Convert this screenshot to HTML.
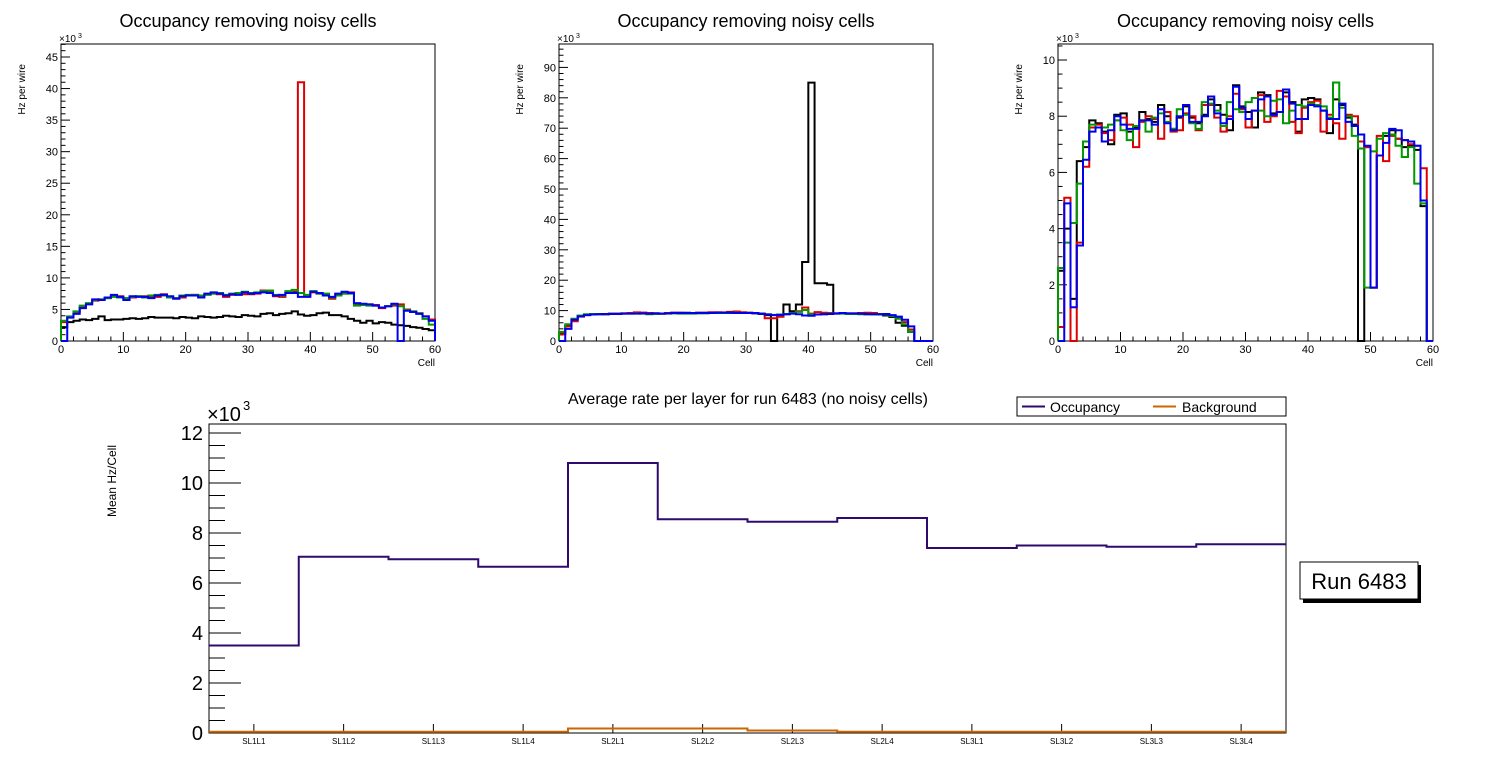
<!DOCTYPE html>
<html><head><meta charset="utf-8"><style>
html,body{margin:0;padding:0;background:#fff;}
svg{display:block;font-family:"Liberation Sans",sans-serif;}
</style></head><body>
<svg id="c" width="1496" height="772" viewBox="0 0 1496 772"></svg>
<script>
// ---- Data ----
const cellEdgesMax = 60;
const p1Black = [2.2,3.0,3.2,3.4,3.3,3.5,3.9,3.3,3.4,3.4, 3.5,3.6,3.5,3.6,3.8,3.7,3.7,3.7,3.6,3.8, 3.7,3.6,3.9,3.8,3.7,3.8,4.0,3.9,3.8,4.1, 4.0,3.9,4.3,4.4,4.1,4.3,4.4,4.7,4.2,4.0, 4.1,4.4,4.5,4.1,4.1,3.9,3.5,3.2,2.9,3.2, 2.8,3.0,2.9,2.6,2.5,2.4,2.2,2.1,1.9,1.7];
const p1Red = [3.0,3.8,4.5,5.4,5.9,6.4,6.6,6.8,7.1,7.1, 6.8,6.9,7.1,7.1,6.9,7.0,7.4,7.0,6.8,6.9, 7.2,7.3,7.1,7.4,7.5,7.4,7.0,7.3,7.6,7.4, 7.4,7.5,8.0,7.9,7.1,7.0,7.6,7.8,41,7.2, 7.7,7.5,7.4,6.7,7.4,7.5,7.7,5.8,5.8,5.8, 5.7,5.2,5.5,5.6,5.8,5.0,4.7,4.4,3.9,3.4];
const p1Green = [3.2,3.9,4.7,5.6,6.0,6.5,6.6,6.8,7.0,6.9, 6.8,7.0,7.1,6.9,7.2,7.3,7.2,6.9,6.8,7.2, 7.3,7.3,7.2,7.3,7.5,7.6,7.3,7.5,7.6,7.8, 7.6,7.7,7.9,8.0,7.3,7.2,7.9,8.1,7.6,7.3, 7.9,7.5,7.5,6.9,7.2,7.5,7.5,5.6,5.7,5.6, 5.6,5.3,5.5,5.8,5.5,4.9,4.7,4.4,3.5,2.6];
const p1Blue = [0,3.7,4.3,5.2,5.8,6.6,6.5,6.9,7.3,7.0, 6.5,7.1,7.0,7.0,6.8,7.2,7.3,7.1,6.7,7.1, 7.2,7.2,6.9,7.5,7.7,7.5,7.2,7.4,7.3,7.7, 7.5,7.6,7.7,7.6,7.2,7.3,7.6,7.6,7.0,7.0, 7.8,7.6,7.2,7.0,7.5,7.8,7.6,6.0,5.9,5.8, 5.6,5.3,5.5,5.9,0,4.8,4.6,4.3,3.9,3.2];

const p2Black = [2.5,5.0,7.2,8.3,8.6,8.8,8.9,8.9,9.0,9.0, 9.1,9.1,9.2,9.3,9.1,9.1,9.0,9.2,9.3,9.3, 9.3,9.2,9.3,9.3,9.4,9.4,9.3,9.6,9.5,9.4, 9.3,9.1,8.9,8.5,0,8.0,12,9.8,12,26, 85,19,19,18.5,9.0,9.1,9.0,9.0,9.1,9.0, 8.9,8.7,8.4,7.9,6.0,5.0,3.0,0,0,0];
const p2Red = [2.2,4.8,6.5,8.0,8.5,8.8,8.8,8.7,8.9,9.0, 9.1,9.2,9.4,9.3,9.2,9.1,9.0,9.2,9.3,9.3, 9.2,9.2,9.3,9.3,9.4,9.4,9.4,9.5,9.7,9.4, 9.3,9.2,9.0,7.5,7.5,8.0,8.8,9.2,9.8,11, 9.0,9.5,9.3,9.2,9.1,9.1,9.1,9.1,9.2,9.3, 9.2,8.9,8.7,8.4,7.5,6.2,3.8,0,0,0];
const p2Green = [3.0,5.5,7.3,8.3,8.8,8.9,8.8,8.8,8.9,8.9, 9.0,9.0,9.1,9.0,8.8,8.9,9.0,9.0,9.1,9.0, 9.0,9.0,9.1,9.1,9.2,9.2,9.2,9.2,9.3,9.2, 9.2,9.2,9.0,8.8,8.6,8.7,8.9,9.2,9.6,10.2, 8.8,8.7,8.8,9.0,9.0,9.0,8.9,8.9,8.8,8.7, 8.7,8.8,8.7,8.2,7.3,5.5,3.0,0,0,0];
const p2Blue = [0,4.0,7.0,8.1,8.5,8.7,8.8,8.9,8.9,8.9, 9.0,9.0,9.0,9.1,9.0,9.1,9.0,9.1,9.2,9.2, 9.2,9.2,9.2,9.2,9.2,9.3,9.3,9.3,9.2,9.2, 9.2,9.2,9.0,8.7,8.5,8.6,8.8,9.0,8.8,8.4, 8.3,8.7,8.8,8.9,9.1,9.2,9.1,9.1,9.0,8.9, 8.8,8.8,8.9,8.5,8.0,7.0,4.8,0,0,0];

const p3Black = [2.5,4.0,1.5,6.4,6.9,7.85,7.75,7.45,7.0,8.05, 8.1,7.45,7.6,8.15,7.9,7.8,8.4,8.0,7.55,7.95, 8.35,7.95,7.75,8.05,8.6,8.4,8.05,7.5,9.1,8.35, 8.15,7.6,8.85,8.75,8.1,8.15,8.85,8.5,7.45,8.6, 8.65,8.6,8.2,7.4,8.6,8.4,7.95,7.7,0,6.9, 1.9,6.6,7.3,7.5,7.2,6.9,6.95,6.8,4.8,0];
const p3Red = [0.5,5.1,0,3.5,6.2,7.6,7.7,7.4,7.15,7.85, 7.95,7.7,6.9,7.8,8.0,7.9,7.2,8.15,7.45,7.5, 8.1,8.0,7.5,8.4,8.4,7.95,7.45,8.0,8.8,8.25, 7.6,8.2,8.75,7.8,8.0,8.9,8.7,7.8,7.4,8.3, 8.5,8.55,7.45,8.05,7.75,7.2,8.05,8.0,7.1,6.9, 1.9,7.3,6.4,7.3,7.2,7.15,7.0,6.95,6.15,0];
const p3Green = [2.6,3.5,4.2,5.6,7.1,7.7,7.6,7.6,7.7,7.85, 7.5,7.15,7.65,7.85,7.45,7.95,8.1,7.8,7.55,8.25, 8.05,7.75,7.55,8.5,8.45,8.2,7.65,8.5,8.25,8.15, 8.5,8.65,8.2,8.0,8.55,8.6,7.75,8.2,8.4,8.35, 8.45,8.4,8.35,7.95,9.2,8.3,8.0,7.3,6.85,1.9, 6.75,7.2,7.4,7.35,6.95,6.55,6.9,5.6,4.9,0];
const p3Blue = [0,4.9,1.2,3.4,6.45,7.45,7.6,7.1,7.5,8.0, 7.7,7.55,7.55,7.85,7.85,7.7,8.25,7.75,7.5,8.0, 8.4,7.8,7.8,8.0,8.7,8.1,7.75,7.9,9.05,8.3, 7.9,8.2,8.6,8.7,8.05,8.15,8.95,8.45,7.9,7.9, 8.4,8.35,8.2,7.9,7.9,8.45,7.8,7.65,7.35,6.95, 1.9,6.6,7.05,7.55,7.5,7.15,7.1,6.95,5.0,0];

const layerNames = ["SL1L1","SL1L2","SL1L3","SL1L4","SL2L1","SL2L2","SL2L3","SL2L4","SL3L1","SL3L2","SL3L3","SL3L4"];
const occupancy = [3.5,7.05,6.95,6.65,10.8,8.55,8.45,8.6,7.4,7.5,7.45,7.55];
const background = [0.05,0.05,0.05,0.05,0.18,0.18,0.1,0.05,0.05,0.05,0.05,0.05];
const xTickLabels = [0,10,20,30,40,50,60];

// ---- Drawing ----
const NS="http://www.w3.org/2000/svg";
const svg=document.getElementById('c');
function mk(tag,attrs,parent){const e=document.createElementNS(NS,tag);for(const k in attrs)e.setAttribute(k,attrs[k]);(parent||svg).appendChild(e);return e;}
function txt(s,attrs,parent){const e=mk('text',attrs,parent);e.textContent=s;return e;}

function histPath(vals,xs,ys,ymax,closeEnds){
  let d='';
  vals.forEach((v,i)=>{const x0=xs(i),x1=xs(i+1);const y=ys(Math.min(v,ymax));
    if(i===0){d+=closeEnds?('M'+x0+','+ys(0)+' L'+x0+','+y):('M'+x0+','+y);} else d+=' L'+x0+','+y;
    d+=' L'+x1+','+y;});
  if(closeEnds) d+=' L'+xs(vals.length)+','+ys(0);
  return d;
}

function panel(name,L,R,T,B,ymax,major,minor,series){
  const g=mk('g',{});
  
  
  const xs=i=>L+(R-L)*i/cellEdgesMax;
  const ys=v=>B-(B-T)*v/ymax;
  const t=txt('Occupancy removing noisy cells',{x:(L+R)/2,y:27,'font-size':18,'text-anchor':'middle'},g);
  
  
  mk('rect',{x:L,y:T,width:R-L,height:B-T,fill:'none',stroke:'#000','stroke-width':1},g);
  for(let v=0;v<=ymax+1e-9;v+=minor){
    const isMaj=Math.abs(v/major-Math.round(v/major))<1e-6;
    const y=ys(v);
    mk('line',{x1:L,x2:L+(isMaj?9:4.5),y1:y,y2:y,stroke:'#000','stroke-width':1},g);
    if(isMaj){const lb=txt(String(Math.round(v)),{x:L-3,y:y+4,'font-size':11,'text-anchor':'end'},g);
      }
  }
  for(let c=0;c<=60;c+=2){const x=xs(c);const isMaj=c%10===0;
    mk('line',{x1:x,x2:x,y1:B,y2:B-(isMaj?9:4.5),stroke:'#000','stroke-width':1},g);}
  xTickLabels.forEach(c=>{const lb=txt(String(c),{x:xs(c),y:B+12,'font-size':11,'text-anchor':'middle'},g);
    });
  const xt=txt('Cell',{x:R,y:B+25,'font-size':10,'text-anchor':'end'},g);
  
  const yt=txt('Hz per wire',{x:0,y:0,'font-size':10,'text-anchor':'end',transform:'translate('+(L-36)+','+(T+20)+') rotate(-90)'},g);
  
  const ex=txt('×10',{x:L-2,y:T-2,'font-size':10},g);
  
  txt('3',{x:L+17,y:T-6,'font-size':7},g);
  series.forEach(s=>{const p=mk('path',{d:histPath(s.v,xs,ys,ymax,true),fill:'none',stroke:s.c,'stroke-width':2,'stroke-linejoin':'miter'},g);
    });
}
const BK='#000',RD='#dd0000',GR='#009900',BL='#0000ee';
panel('panel-left',61,435,44,341,47.06,5,1,[{v:p1Black,c:BK,n:'series-black'},{v:p1Red,c:RD,n:'series-red'},{v:p1Green,c:GR,n:'series-green'},{v:p1Blue,c:BL,n:'series-blue'}]);
panel('panel-middle',559,933,44,341,97.7,10,2,[{v:p2Black,c:BK,n:'series-black'},{v:p2Red,c:RD,n:'series-red'},{v:p2Green,c:GR,n:'series-green'},{v:p2Blue,c:BL,n:'series-blue'}]);
panel('panel-right',1058,1433,44,341,10.57,2,0.5,[{v:p3Black,c:BK,n:'series-black'},{v:p3Red,c:RD,n:'series-red'},{v:p3Green,c:GR,n:'series-green'},{v:p3Blue,c:BL,n:'series-blue'}]);

(function(){
  const L=209,R=1286,T=424,B=733,ymax=12.36;
  const g=mk('g',{});
  
  
  const n=layerNames.length;
  const xs=i=>L+(R-L)*i/n;
  const ys=v=>B-(B-T)*v/ymax;
  const t=txt('Average rate per layer for run 6483 (no noisy cells)',{x:748,y:404,'font-size':16,'text-anchor':'middle'},g);
  
  mk('rect',{x:L,y:T,width:R-L,height:B-T,fill:'none',stroke:'#000','stroke-width':1},g);
  for(let v=0;v<=ymax+1e-9;v+=0.5){const isMaj=Math.abs(v/2-Math.round(v/2))<1e-6;const y=ys(v);
    mk('line',{x1:L,x2:L+(isMaj?32:16),y1:y,y2:y,stroke:'#000','stroke-width':1},g);
    if(isMaj){const lb=txt(String(Math.round(v)),{x:L-6,y:y+7,'font-size':20,'text-anchor':'end'},g);
      }}
  layerNames.forEach((nm,i)=>{const x=(xs(i)+xs(i+1))/2;
    mk('line',{x1:x,x2:x,y1:B,y2:B-9,stroke:'#000','stroke-width':1},g);
    const lb=txt(nm,{x:x,y:744,'font-size':8,'text-anchor':'middle'},g);
    });
  const yt=txt('Mean Hz/Cell',{x:0,y:0,'font-size':12,'text-anchor':'end',transform:'translate(116,445) rotate(-90)'},g);
  
  const ex=txt('×10',{x:207,y:421,'font-size':20},g);
  
  txt('3',{x:243,y:410,'font-size':13},g);
  const bp=mk('path',{d:histPath(background,xs,ys,ymax,false),fill:'none',stroke:'#cc6600','stroke-width':2},g);
  
  const op=mk('path',{d:histPath(occupancy,xs,ys,ymax,false),fill:'none',stroke:'#2e0a6e','stroke-width':2},g);
  
  const lg=mk('g',{});
  
  mk('rect',{x:1017,y:397,width:269,height:19,fill:'#fff',stroke:'#000','stroke-width':1},lg);
  const e1=mk('g',{},lg);
  mk('line',{x1:1022,x2:1045,y1:406.5,y2:406.5,stroke:'#2e0a6e','stroke-width':2},e1);
  txt('Occupancy',{x:1050,y:412,'font-size':14},e1);
  const e2=mk('g',{},lg);
  mk('line',{x1:1153,x2:1176,y1:406.5,y2:406.5,stroke:'#cc6600','stroke-width':2},e2);
  txt('Background',{x:1182,y:412,'font-size':14},e2);
  const rb=mk('g',{});
  
  mk('rect',{x:1303,y:565,width:118,height:38,fill:'#000'},rb);
  mk('rect',{x:1300,y:562,width:118,height:37,fill:'#fff',stroke:'#000','stroke-width':1},rb);
  txt('Run 6483',{x:1359,y:589,'font-size':22,'text-anchor':'middle'},rb);
})();
</script>
</body></html>
